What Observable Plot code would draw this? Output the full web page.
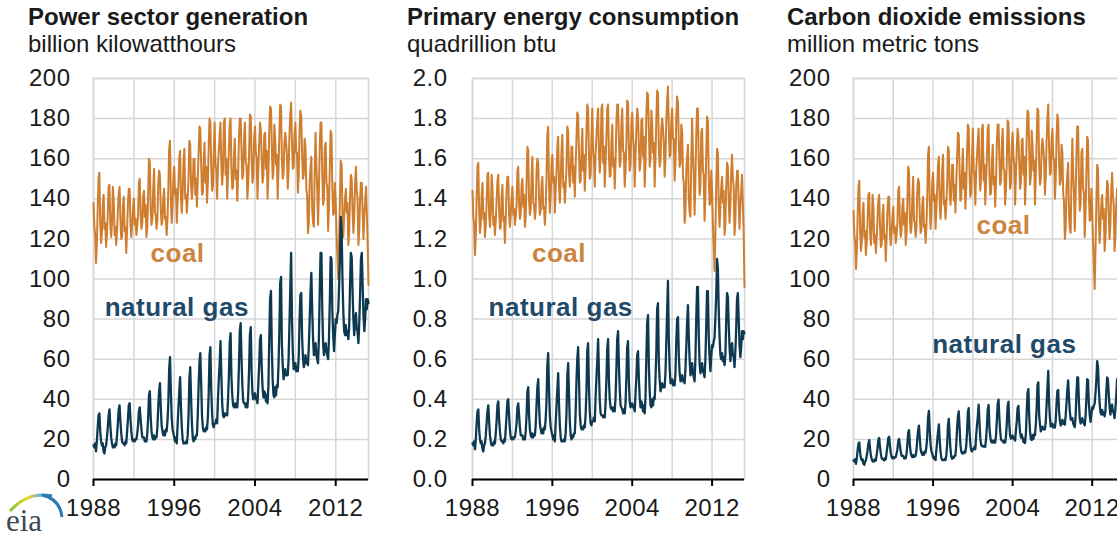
<!DOCTYPE html>
<html><head><meta charset="utf-8">
<script src="https://cdn.jsdelivr.net/npm/d3@7"></script>
<script src="https://cdn.jsdelivr.net/npm/@observablehq/plot@0.6"></script>
<style>
html,body{margin:0;padding:0;background:#fff;overflow:hidden;}
#root{position:relative;width:1117px;height:539px;overflow:hidden;font-family:"Liberation Sans",Arial,sans-serif;color:#1a1a1a;}
.panel{position:absolute;top:0;width:380px;height:539px;}
.title{position:absolute;top:5px;font-weight:bold;font-size:24px;line-height:24px;white-space:nowrap;}
.unit{position:absolute;top:32px;font-size:24px;line-height:24px;white-space:nowrap;}
#logo{position:absolute;left:0;top:483px;overflow:visible;}
</style></head><body><div id="root"></div>
<script>
// ---------- data (monthly, Jan 1988 - Apr 2015) ----------
const startYear = 1988;
const titles = ["Power sector generation", "Primary energy consumption", "Carbon dioxide emissions"];
const units = ["billion kilowatthours", "quadrillion btu", "million metric tons"];
const seriesNames = ["coal", "natural gas"];

const genCoal = [
138,126,122,108,117,135,150,153,128,118,123,137,
142,125,128,116,122,133,146,147,127,121,128,146,
140,122,126,117,124,134,143,146,130,120,121,136,
141,124,126,113,125,138,145,145,127,121,127,135,
140,127,130,122,126,132,148,150,132,125,128,141,
144,131,137,121,126,142,160,158,134,127,130,145,
155,133,132,125,129,148,154,152,135,127,129,141,
145,130,131,122,130,145,165,169,140,128,136,151,
156,142,145,128,138,148,160,164,140,133,143,158,
165,140,142,133,140,150,169,167,147,140,147,160,
160,142,150,136,150,163,176,175,157,142,143,158,
168,148,156,138,148,166,180,178,156,144,146,163,
178,157,154,140,157,164,172,178,156,147,155,178,
180,152,160,140,152,164,178,180,155,145,146,162,
170,150,154,139,152,171,180,180,163,150,152,170,
178,158,157,140,148,162,182,181,160,148,151,170,
176,163,160,140,155,168,178,174,160,148,152,172,
173,155,164,140,152,175,186,185,167,150,154,177,
170,157,162,140,155,172,187,186,160,150,153,168,
173,168,162,145,154,172,182,188,168,155,156,172,
178,163,163,143,152,174,184,181,162,150,152,170,
166,145,142,123,128,148,155,161,135,128,126,154,
173,156,146,127,143,165,178,178,152,137,140,166,
168,148,146,124,136,156,174,172,145,132,133,148,
138,122,112,100,118,140,159,157,132,121,131,140,
145,133,138,117,123,140,152,150,134,123,131,148,
156,144,140,117,124,140,148,148,133,120,132,138,
146,132,118,97];

const genGas = [
17,16,18,14,19,26,32,33,24,19,17,18,
14,13,16,17,21,26,32,35,27,21,18,16,
17,16,18,17,22,28,35,37,29,23,19,18,
18,17,19,18,24,30,37,38,30,24,20,19,
20,19,20,20,23,27,34,36,30,25,21,21,
21,19,19,19,23,31,42,44,31,24,21,20,
22,20,21,21,26,36,44,48,36,27,24,22,
24,22,25,24,29,38,55,61,44,31,25,23,
21,19,21,18,27,36,44,51,36,26,20,18,
18,18,19,18,22,32,50,56,41,28,21,19,
21,20,22,22,32,47,58,63,48,32,26,24,
25,24,26,25,31,43,62,66,45,33,27,26,
28,28,30,28,40,50,58,69,52,38,32,31,
33,32,33,32,40,52,68,73,51,42,37,36,
38,36,38,36,43,58,74,78,60,47,39,38,
38,36,38,36,42,55,72,76,54,43,40,42,
43,40,40,38,48,57,70,72,56,46,41,44,
43,39,42,38,47,70,90,94,66,50,42,41,
46,42,47,46,57,74,98,101,67,57,50,53,
55,52,53,52,60,77,95,113,80,64,55,56,
58,54,56,54,61,79,92,93,71,61,56,58,
62,58,60,57,66,79,93,103,85,71,62,64,
68,62,60,58,70,94,113,113,85,68,62,66,
68,64,62,60,70,89,111,110,84,72,64,72,
80,78,82,84,96,110,131,125,100,84,74,72,
77,72,74,70,76,96,113,111,94,80,72,80,
83,75,74,68,78,92,110,113,97,82,74,80,
90,85,90,88];

const energyCoal = [
1.44,1.31,1.27,1.12,1.22,1.40,1.56,1.58,1.33,1.23,1.28,1.42,
1.48,1.30,1.33,1.21,1.27,1.38,1.52,1.53,1.32,1.26,1.33,1.52,
1.46,1.27,1.31,1.22,1.29,1.39,1.49,1.52,1.35,1.25,1.26,1.41,
1.47,1.29,1.31,1.18,1.30,1.44,1.51,1.51,1.32,1.26,1.32,1.40,
1.46,1.32,1.35,1.27,1.31,1.37,1.54,1.56,1.37,1.30,1.33,1.47,
1.50,1.36,1.42,1.26,1.31,1.48,1.66,1.64,1.39,1.32,1.35,1.51,
1.61,1.38,1.37,1.30,1.34,1.54,1.60,1.58,1.40,1.32,1.34,1.47,
1.51,1.35,1.36,1.27,1.35,1.51,1.72,1.76,1.46,1.33,1.41,1.57,
1.62,1.48,1.51,1.33,1.44,1.54,1.66,1.71,1.46,1.38,1.49,1.64,
1.72,1.46,1.48,1.38,1.46,1.56,1.76,1.74,1.53,1.46,1.53,1.66,
1.66,1.48,1.56,1.41,1.56,1.70,1.83,1.82,1.63,1.48,1.49,1.64,
1.75,1.54,1.62,1.44,1.54,1.73,1.87,1.85,1.62,1.50,1.52,1.70,
1.85,1.63,1.60,1.46,1.63,1.71,1.79,1.85,1.62,1.53,1.61,1.85,
1.87,1.58,1.66,1.46,1.58,1.71,1.85,1.87,1.61,1.51,1.52,1.68,
1.77,1.56,1.60,1.45,1.58,1.78,1.87,1.87,1.70,1.56,1.58,1.77,
1.85,1.64,1.63,1.46,1.54,1.68,1.89,1.88,1.66,1.54,1.57,1.77,
1.83,1.70,1.66,1.46,1.61,1.75,1.85,1.81,1.66,1.54,1.58,1.79,
1.80,1.61,1.71,1.46,1.58,1.82,1.93,1.92,1.74,1.56,1.60,1.84,
1.77,1.63,1.68,1.46,1.61,1.79,1.94,1.93,1.66,1.56,1.59,1.75,
1.80,1.75,1.68,1.51,1.60,1.79,1.89,1.96,1.75,1.61,1.62,1.79,
1.85,1.70,1.70,1.49,1.58,1.81,1.91,1.88,1.68,1.56,1.58,1.77,
1.73,1.51,1.48,1.28,1.33,1.54,1.61,1.67,1.40,1.33,1.31,1.60,
1.80,1.62,1.52,1.32,1.49,1.72,1.85,1.85,1.58,1.42,1.46,1.73,
1.75,1.54,1.52,1.29,1.41,1.62,1.81,1.79,1.51,1.37,1.38,1.54,
1.44,1.27,1.16,1.04,1.23,1.46,1.65,1.63,1.37,1.26,1.36,1.46,
1.51,1.38,1.44,1.22,1.28,1.46,1.58,1.56,1.39,1.28,1.36,1.54,
1.62,1.50,1.46,1.22,1.29,1.46,1.54,1.54,1.38,1.25,1.37,1.44,
1.52,1.37,1.23,0.96];

const energyGas = [
0.18,0.17,0.19,0.15,0.20,0.28,0.34,0.35,0.25,0.20,0.18,0.19,
0.15,0.14,0.17,0.18,0.22,0.28,0.34,0.37,0.29,0.22,0.19,0.17,
0.18,0.17,0.19,0.18,0.23,0.29,0.37,0.39,0.30,0.24,0.20,0.19,
0.19,0.18,0.20,0.19,0.25,0.32,0.39,0.40,0.32,0.25,0.21,0.20,
0.21,0.20,0.21,0.21,0.24,0.28,0.36,0.38,0.32,0.26,0.22,0.22,
0.22,0.20,0.20,0.20,0.24,0.32,0.44,0.46,0.32,0.25,0.22,0.21,
0.23,0.21,0.22,0.22,0.27,0.37,0.46,0.50,0.37,0.28,0.25,0.23,
0.25,0.23,0.26,0.25,0.30,0.39,0.57,0.63,0.45,0.32,0.26,0.24,
0.22,0.20,0.22,0.19,0.28,0.37,0.45,0.53,0.37,0.27,0.21,0.19,
0.19,0.19,0.20,0.19,0.23,0.33,0.52,0.58,0.42,0.29,0.22,0.20,
0.22,0.21,0.23,0.23,0.33,0.49,0.60,0.66,0.50,0.33,0.27,0.25,
0.26,0.25,0.27,0.26,0.32,0.44,0.64,0.68,0.46,0.34,0.28,0.27,
0.29,0.29,0.31,0.29,0.41,0.51,0.59,0.70,0.53,0.39,0.33,0.32,
0.32,0.31,0.32,0.31,0.38,0.50,0.65,0.70,0.49,0.40,0.36,0.35,
0.36,0.34,0.36,0.34,0.41,0.55,0.70,0.74,0.57,0.45,0.37,0.36,
0.35,0.33,0.35,0.33,0.38,0.50,0.66,0.69,0.49,0.39,0.36,0.38,
0.38,0.36,0.36,0.34,0.43,0.51,0.62,0.64,0.50,0.41,0.36,0.39,
0.37,0.34,0.37,0.33,0.41,0.61,0.78,0.82,0.57,0.44,0.37,0.36,
0.40,0.37,0.41,0.40,0.50,0.64,0.85,0.88,0.58,0.50,0.44,0.46,
0.48,0.46,0.47,0.46,0.53,0.68,0.84,0.99,0.70,0.56,0.48,0.49,
0.50,0.47,0.49,0.47,0.53,0.69,0.80,0.81,0.62,0.53,0.49,0.50,
0.52,0.49,0.50,0.48,0.55,0.66,0.78,0.87,0.71,0.60,0.52,0.54,
0.58,0.53,0.51,0.49,0.60,0.80,0.96,0.96,0.72,0.58,0.53,0.56,
0.58,0.54,0.53,0.51,0.60,0.76,0.94,0.94,0.71,0.61,0.54,0.61,
0.67,0.66,0.69,0.71,0.81,0.92,1.10,1.05,0.84,0.71,0.62,0.60,
0.63,0.59,0.61,0.57,0.62,0.79,0.93,0.91,0.77,0.66,0.59,0.66,
0.68,0.62,0.61,0.56,0.64,0.75,0.90,0.93,0.80,0.67,0.61,0.66,
0.74,0.70,0.74,0.73];

const co2Coal = [
134,122,118,105,113,131,146,149,124,114,119,133,
138,121,124,112,118,129,142,143,123,117,124,142,
136,118,122,113,120,130,139,142,126,116,117,132,
137,120,122,109,121,134,141,141,123,117,123,131,
136,123,126,118,122,128,144,146,128,121,124,137,
140,127,133,117,122,138,156,154,130,123,126,141,
151,129,128,121,125,144,150,148,131,123,125,137,
141,126,127,118,126,141,162,166,137,125,133,148,
153,139,142,125,135,145,157,161,137,130,140,155,
162,137,139,130,137,147,166,164,144,137,144,157,
157,139,147,133,147,160,173,172,154,139,140,155,
165,145,153,135,145,163,177,175,153,141,143,160,
175,154,151,137,154,161,169,175,153,144,152,175,
177,149,157,137,149,161,175,177,152,142,143,159,
167,147,151,136,149,168,177,177,160,147,149,167,
175,155,154,137,145,159,179,178,157,145,148,167,
173,160,157,137,152,165,175,171,157,145,149,169,
170,152,161,137,149,172,184,183,164,147,151,174,
167,154,159,137,152,169,185,184,157,147,150,165,
170,165,159,142,151,169,180,187,165,152,153,169,
175,160,160,140,149,171,182,179,159,147,149,167,
163,142,139,120,125,145,152,158,132,125,123,151,
170,153,143,124,140,162,176,176,149,134,137,163,
165,145,143,121,133,153,171,169,142,129,130,145,
135,119,108,95,115,137,157,155,129,118,128,137,
142,130,135,114,120,137,149,147,131,120,128,145,
153,141,137,114,121,137,145,145,130,117,129,135,
143,129,115,94];

const co2Gas = [
9.5,9.0,10.1,7.8,10.6,14.6,17.9,18.5,13.4,10.6,9.5,10.1,
7.8,7.3,9.0,9.5,11.8,14.6,17.9,19.6,15.1,11.8,10.1,9.0,
9.5,9.0,10.1,9.5,12.3,15.7,19.6,20.7,16.2,12.9,10.6,10.1,
10.1,9.5,10.6,10.1,13.4,16.8,20.7,21.3,16.8,13.4,11.2,10.6,
11.2,10.6,11.2,11.2,12.9,15.1,19.0,20.2,16.8,14.0,11.8,11.8,
11.8,10.6,10.6,10.6,12.9,17.4,23.5,24.6,17.4,13.4,11.8,11.2,
12.3,11.2,11.8,11.8,14.6,20.2,24.6,26.9,20.2,15.1,13.4,12.3,
13.4,12.3,14.0,13.4,16.2,21.3,30.8,34.2,24.6,17.4,14.0,12.9,
11.3,10.3,11.3,9.7,14.6,19.4,23.8,27.5,19.4,14.0,10.8,9.7,
9.7,9.7,10.3,9.7,11.9,17.3,27.0,30.2,22.1,15.1,11.3,10.3,
11.3,10.8,11.9,11.9,17.3,25.4,31.3,34.0,25.9,17.3,14.0,13.0,
13.5,13.0,14.0,13.5,16.7,23.2,33.5,35.6,24.3,17.8,14.6,14.0,
15.1,15.1,16.2,15.1,21.6,27.0,31.3,37.3,28.1,20.5,17.3,16.7,
16.8,16.3,16.8,16.3,20.4,26.5,34.7,37.2,26.0,21.4,18.9,18.4,
19.4,18.4,19.4,18.4,21.9,29.6,37.7,39.8,30.6,24.0,19.9,19.4,
19.4,18.4,19.4,18.4,21.4,28.1,36.7,38.8,27.5,21.9,20.4,21.4,
21.9,20.4,20.4,19.4,24.5,29.1,35.7,36.7,28.6,23.5,20.9,22.4,
20.6,18.7,20.2,18.2,22.6,33.6,43.2,45.1,31.7,24.0,20.2,19.7,
22.1,20.2,22.6,22.1,27.4,35.5,47.0,48.5,32.2,27.4,24.0,25.4,
26.4,25.0,25.4,25.0,28.8,37.0,45.6,54.2,38.4,30.7,26.4,26.9,
27.8,25.9,26.9,25.9,29.3,37.9,44.2,44.6,34.1,29.3,26.9,27.8,
29.8,27.8,28.8,27.4,31.7,37.9,44.6,49.4,40.8,34.1,29.8,30.7,
30.6,27.9,27.0,26.1,31.5,42.3,50.9,50.9,38.3,30.6,27.9,29.7,
30.6,28.8,27.9,27.0,31.5,40.1,50.0,49.5,37.8,32.4,28.8,32.4,
36.0,35.1,36.9,37.8,43.2,49.5,59.0,56.3,45.0,37.8,33.3,32.4,
34.7,32.4,33.3,31.5,34.2,43.2,50.9,50.0,42.3,36.0,32.4,36.0,
37.4,33.8,33.3,30.6,35.1,41.4,49.5,50.9,43.7,36.9,33.3,36.0,
40.5,38.3,40.5,39.6];

// tick values / labels
const yTicksGen = [0,20,40,60,80,100,120,140,160,180,200];
const yTicksEnergy = [0,0.2,0.4,0.6,0.8,1.0,1.2,1.4,1.6,1.8,2.0];
const yTicksCO2 = [0,20,40,60,80,100,120,140,160,180,200];
const xTickYears = [1988,1996,2004,2012];
const xGridYears = [1988,1992,1996,2000,2004,2008,2012];

// series label anchors: [year, month, value]
const coalLabelPos = [[1996,4,112.7],[1996,8,1.127],[2003,1,126.7]];
const gasLabelPos = [[1996,3,85.8],[1996,10,0.858],[2003,2,67.3]];

// ---------- drawing ----------
const coalColor = "#cf7d2e";
const gasColor = "#0d3a50";
const coalText = "#cc8540";
const gasText = "#1f4a6a";
const gridColor = "#d6d6d6";
const font = "'Liberation Sans', Arial, sans-serif";

const utc = (y, m) => new Date(Date.UTC(y, m, 1));
const xDomain = [utc(startYear, 0), utc(startYear, genCoal.length - 1)];

const panels = [
  {left: 0, titleX: 28, ml: 93, mr: 12, coal: genCoal, gas: genGas, ticks: yTicksGen, fmt: d3.format("d"), pad: 23},
  {left: 380, titleX: 27, ml: 92, mr: 16, coal: energyCoal, gas: energyGas, ticks: yTicksEnergy, fmt: d3.format(".1f"), pad: 25},
  {left: 760, titleX: 27, ml: 93, mr: 16, coal: co2Coal, gas: co2Gas, ticks: yTicksCO2, fmt: d3.format("d"), pad: 23}
];

const root = document.getElementById("root");

panels.forEach((p, k) => {
  const div = document.createElement("div");
  div.className = "panel";
  div.style.left = p.left + "px";
  const t = document.createElement("div");
  t.className = "title"; t.style.left = p.titleX + "px"; t.textContent = titles[k];
  const u = document.createElement("div");
  u.className = "unit"; u.style.left = p.titleX + "px"; u.textContent = units[k];
  div.appendChild(t); div.appendChild(u);

  const rows = p.coal.map((v, i) => ({date: utc(startYear, i), coal: v, gas: p.gas[i]}));
  const labels = [
    {date: utc(coalLabelPos[k][0], coalLabelPos[k][1]), v: coalLabelPos[k][2], text: seriesNames[0], color: coalText},
    {date: utc(gasLabelPos[k][0], gasLabelPos[k][1]), v: gasLabelPos[k][2], text: seriesNames[1], color: gasText}
  ];
  const ymax = p.ticks[p.ticks.length - 1];

  const chart = Plot.plot({
    width: 380, height: 460,
    marginLeft: p.ml, marginRight: p.mr, marginTop: 18, marginBottom: 41,
    style: {fontFamily: font, fontSize: "24px", color: "#1a1a1a", background: "transparent", overflow: "visible", letterSpacing: "0.5px"},
    x: {type: "utc", domain: xDomain},
    y: {domain: [0, ymax]},
    marks: [
      Plot.gridY(p.ticks, {stroke: gridColor, strokeOpacity: 1, strokeWidth: 1.5}),
      Plot.gridX(xGridYears.map(y => utc(y, 0)), {stroke: gridColor, strokeOpacity: 1, strokeWidth: 1.5}),
      Plot.frame({stroke: gridColor, strokeWidth: 1.5}),
      Plot.axisY(p.ticks, {tickSize: 0, tickPadding: p.pad, tickFormat: p.fmt, fontSize: 24, label: null}),
      Plot.lineY(rows, {x: "date", y: "coal", stroke: coalColor, strokeWidth: 2}),
      Plot.lineY(rows, {x: "date", y: "gas", stroke: gasColor, strokeWidth: 2.3}),
      Plot.ruleY([0], {stroke: "#000", strokeWidth: 2}),
      Plot.axisX(xTickYears.map(y => utc(y, 0)), {tickSize: 7, tickPadding: 12, tickFormat: "%Y", fontSize: 24, label: null, stroke: "#000", strokeWidth: 2}),
      Plot.text(labels, {x: "date", y: "v", text: "text", fill: "color", fontSize: 26, fontWeight: "bold", textAnchor: "middle", lineAnchor: "middle"})
    ]
  });
  chart.style.position = "absolute";
  chart.style.top = "60px";
  chart.style.left = "0px";
  div.appendChild(chart);
  root.appendChild(div);
});

// eia logo
const logo = `<svg id="logo" width="72" height="54" viewBox="0 0 72 54">
<defs><linearGradient id="sw" x1="0" x2="1" y1="0" y2="0">
<stop offset="0" stop-color="#8cc63f"/><stop offset="0.45" stop-color="#f2d024"/><stop offset="0.7" stop-color="#6bb4e0"/><stop offset="1" stop-color="#1e6fa8"/></linearGradient></defs>
<path d="M10,28 Q28,8 52,13" fill="none" stroke="url(#sw)" stroke-width="3"/>
<path d="M42,12 Q60,16 62,34" fill="none" stroke="#2a7ab8" stroke-width="3"/>
<text x="6" y="48" font-family="'Liberation Serif','DejaVu Serif',serif" font-size="31" fill="#3d4b57">eia</text>
</svg>`;
root.insertAdjacentHTML("beforeend", logo);
</script></body></html>
